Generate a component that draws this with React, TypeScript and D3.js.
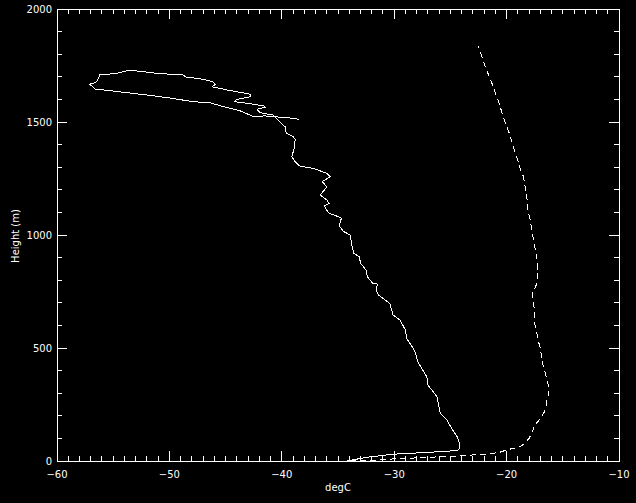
import React from "react";
import * as d3 from "d3";

const tempSolid: number[] = [
  -34.2, -32.5, -30.1, -27.1, -24.4, -24.2, -24.2, -24.4, -24.9, -25.3, -25.9, -26.2, -27.0, -27.1, -27.9, -28.1, -28.4, -28.9,
  -29.0, -29.5, -30.1, -30.4, -30.8, -31.4, -31.6, -31.5, -31.9, -32.4, -32.5, -33.0, -33.1, -33.6, -33.8, -33.9, -34.5,
  -34.9, -34.7, -35.3, -35.8, -36.1, -36.2, -35.8, -36.0, -36.6, -36.2, -36.0, -36.4, -35.7, -36.0, -37.2, -38.4, -38.8,
  -39.1, -38.9, -38.8, -39.0, -39.6, -39.7, -39.9, -40.8, -41.9, -42.2, -41.5, -41.6, -43.1, -44.2, -44.0, -42.8, -42.8,
  -44.9, -46.2, -45.9, -46.2, -47.3, -48.5, -48.8, -51.1, -52.9, -53.5, -54.7, -56.2, -56.3, -56.5, -56.8, -57.1, -56.8,
  -56.6, -55.0, -52.6, -50.2, -47.9, -46.4, -45.2, -43.7, -42.5, -41.5, -39.3, -38.5,
];
const heightSolid: number[] = [
  0, 16, 30, 38, 46, 56, 78, 108, 145, 181, 211, 285, 336, 373, 439, 477, 506, 543,
  580, 624, 646, 698, 712, 735, 757, 783, 786, 816, 845, 875, 904, 919, 963, 1000, 1015,
  1040, 1074, 1088, 1096, 1118, 1128, 1140, 1155, 1177, 1199, 1214, 1236, 1258, 1273, 1295, 1305, 1324,
  1346, 1384, 1423, 1435, 1450, 1479, 1487, 1531, 1541, 1556, 1565, 1571, 1583, 1590, 1600, 1612, 1623,
  1642, 1656, 1667, 1679, 1692, 1698, 1708, 1715, 1726, 1730, 1715, 1708, 1693, 1678, 1671, 1667, 1656,
  1646, 1637, 1623, 1608, 1590, 1585, 1568, 1549, 1524, 1527, 1518, 1512,
];

const tempDashed: number[] = [
  -33.9, -32.5, -30.1, -27.1, -24.1, -21.8, -20.7, -20.0, -19.4, -18.8, -18.4, -18.0, -17.7, -17.5, -17.1, -16.7, -16.5,
  -16.4, -16.2, -16.4, -16.6, -16.8, -17.0, -17.2, -17.3, -17.5, -17.5, -17.6, -17.7, -17.5, -17.3, -17.2, -17.3, -17.5,
  -17.7, -17.9, -18.1, -18.2, -18.4, -18.5, -18.8, -19.1, -19.4, -19.7, -20.1, -20.4, -20.7, -21.0, -21.3, -21.6, -21.9,
  -22.2, -22.5,
];
const heightDashed: number[] = [
  0, 1, 9, 16, 23, 31, 37, 49, 56, 63, 78, 100, 130, 159, 181, 211, 233,
  270, 314, 358, 395, 432, 499, 535, 565, 609, 668, 690, 742, 764, 786, 845, 897, 948,
  1008, 1066, 1111, 1169, 1229, 1258, 1295, 1346, 1391, 1442, 1494, 1539, 1590, 1627, 1671, 1708, 1745,
  1789, 1836,
];

const xTicks: number[] = [-60, -50, -40, -30, -20, -10];
const yTicks: number[] = [0, 500, 1000, 1500, 2000];
const xLabel = "degC";
const yLabel = "Height (m)";

const W = 636;
const H = 503;
const L = 57, R = 619, T = 9, B = 461;

export default function App() {
  const x = d3.scaleLinear().domain([-60, -10]).range([L, R]);
  const y = d3.scaleLinear().domain([0, 2000]).range([B, T]);

  const solid = d3.range(tempSolid.length).map((i) => [tempSolid[i], heightSolid[i]] as [number, number]);
  const dashed = d3.range(tempDashed.length).map((i) => [tempDashed[i], heightDashed[i]] as [number, number]);
  const line = d3.line<[number, number]>().x((d) => x(d[0])).y((d) => y(d[1]));

  const xMinor = d3.range(-60, -9, 1);
  const yMinor = d3.range(0, 2001, 100);
  const font = "'DejaVu Sans', sans-serif";
  const fmt = (v: number) => (v < 0 ? "\u2212" + Math.abs(v) : String(v));

  return (
    <svg width={W} height={H} style={{ position: "absolute", left: 0, top: 0, background: "#000" }}>
      <rect x={0} y={0} width={W} height={H} fill="#000" />
      <g stroke="#fff" strokeWidth={1} shapeRendering="crispEdges" fill="none">
        <rect x={L} y={T} width={R - L} height={B - T} />
        {xMinor.map((v) => {
          const major = v % 10 === 0;
          const len = major ? 10 : 5;
          return (
            <g key={"xt" + v}>
              <line x1={x(v)} x2={x(v)} y1={B} y2={B - len} />
              <line x1={x(v)} x2={x(v)} y1={T} y2={T + len} />
            </g>
          );
        })}
        {yMinor.map((v) => {
          const major = v % 500 === 0;
          const len = major ? 10 : 5;
          return (
            <g key={"yt" + v}>
              <line x1={L} x2={L + len} y1={y(v)} y2={y(v)} />
              <line x1={R} x2={R - len} y1={y(v)} y2={y(v)} />
            </g>
          );
        })}
      </g>
      <g fill="none" stroke="#fff" strokeWidth={1} shapeRendering="crispEdges">
        <path d={line(solid) || ""} />
        <path d={line(dashed) || ""} strokeDasharray="6,4" />
      </g>
      <g fill="#fff" fontFamily={font} fontSize={10}>
        {xTicks.map((v) => (
          <text key={"xl" + v} x={x(v)} y={478} textAnchor="middle">{fmt(v)}</text>
        ))}
        {yTicks.map((v) => (
          <text key={"yl" + v} x={L - 5} y={y(v) + 4} textAnchor="end">{fmt(v)}</text>
        ))}
        <text x={(L + R) / 2} y={491} textAnchor="middle">{xLabel}</text>
        <text transform={`translate(19,${(T + B) / 2 + 1}) rotate(-90)`} textAnchor="middle">{yLabel}</text>
      </g>
    </svg>
  );
}
